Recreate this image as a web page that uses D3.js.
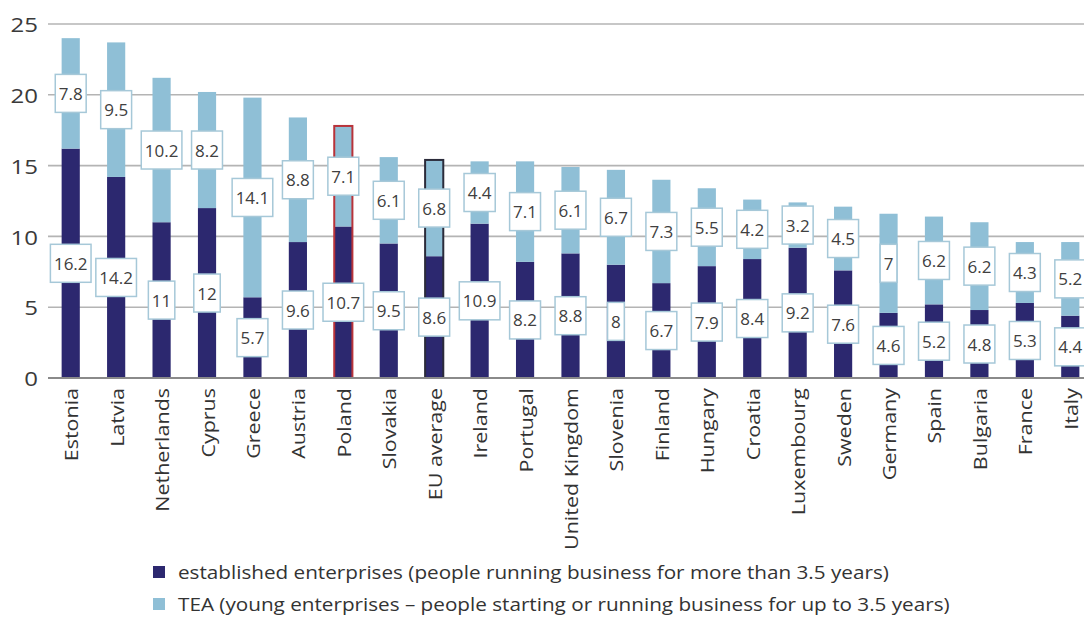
<!DOCTYPE html>
<html>
<head>
<meta charset="utf-8">
<script src="https://cdn.jsdelivr.net/npm/d3@7"></script>
<style>
  html, body { margin: 0; padding: 0; background: #fff; }
  svg { display: block; font-family: "Open Sans", "Noto Sans", sans-serif; }
</style>
</head>
<body>
<svg id="chart" width="1084" height="617"></svg>
<script>
// Entrepreneurial activity by country (% of adult population)
const countries = ["Estonia", "Latvia", "Netherlands", "Cyprus", "Greece", "Austria", "Poland",
  "Slovakia", "EU average", "Ireland", "Portugal", "United Kingdom", "Slovenia", "Finland",
  "Hungary", "Croatia", "Luxembourg", "Sweden", "Germany", "Spain", "Bulgaria", "France", "Italy"];
const established = [16.2, 14.2, 11, 12, 5.7, 9.6, 10.7, 9.5, 8.6, 10.9, 8.2, 8.8, 8, 6.7,
  7.9, 8.4, 9.2, 7.6, 4.6, 5.2, 4.8, 5.3, 4.4];
const tea = [7.8, 9.5, 10.2, 8.2, 14.1, 8.8, 7.1, 6.1, 6.8, 4.4, 7.1, 6.1, 6.7, 7.3,
  5.5, 4.2, 3.2, 4.5, 7, 6.2, 6.2, 4.3, 5.2];
const yTicks = [0, 5, 10, 15, 20, 25];
const seriesNames = [
  "established enterprises (people running business for more than 3.5 years)",
  "TEA (young enterprises \u2013 people starting or running business for up to 3.5 years)"
];
const highlighted = { "Poland": "#b8333a", "EU average": "#2b2b3a" };

const colors = { est: "#2c286f", tea: "#8fbfd6" };

const svg = d3.select("#chart");
const W = 1084;

const rows = countries.map((c, i) => ({ c, est: established[i], tea: tea[i] }));

const x = d3.scaleBand().domain(countries).range([48, 1093]).paddingInner(0.6).paddingOuter(0.3);
const y = d3.scaleLinear().domain([0, 25]).range([378, 24]);

// gridlines
svg.append("g").selectAll("line").data(yTicks.filter(t => t > 0)).join("line")
  .attr("x1", 48).attr("x2", W)
  .attr("y1", d => y(d)).attr("y2", d => y(d))
  .attr("stroke", "#b4b4b4").attr("stroke-width", 1.6);

// y tick labels (slightly widened glyphs)
svg.append("g").selectAll("text").data(yTicks).join("text")
  .attr("transform", d => `translate(38,${y(d)}) scale(1.2,1)`)
  .attr("text-anchor", "end").attr("dominant-baseline", "central")
  .attr("font-size", 20).attr("fill", "#3a3a3a")
  .text(d => d);

// stacked bars
const stack = d3.stack().keys(["est", "tea"])(rows);
svg.append("g").selectAll("g").data(stack).join("g")
  .attr("fill", d => colors[d.key])
  .selectAll("rect").data(d => d).join("rect")
  .attr("x", d => x(d.data.c))
  .attr("width", x.bandwidth())
  .attr("y", d => y(d[1]))
  .attr("height", d => y(d[0]) - y(d[1]));

// outlines for highlighted columns
svg.append("g").selectAll("rect").data(rows.filter(r => highlighted[r.c])).join("rect")
  .attr("x", d => x(d.c))
  .attr("width", x.bandwidth())
  .attr("y", d => y(d.est + d.tea))
  .attr("height", d => y(0) - y(d.est + d.tea))
  .attr("fill", "none")
  .attr("stroke", d => highlighted[d.c])
  .attr("stroke-width", 2);

// baseline axis
svg.append("line")
  .attr("x1", 48).attr("x2", W).attr("y1", y(0)).attr("y2", y(0))
  .attr("stroke", "#8a8a8a").attr("stroke-width", 2);

// value labels in boxes, centred on each segment
const labelData = [];
stack.forEach(s => s.forEach(d => labelData.push({ c: d.data.c, v: d[1] - d[0], mid: (d[0] + d[1]) / 2 })));
const lab = svg.append("g").selectAll("g").data(labelData).join("g")
  .attr("transform", d => `translate(${x(d.c) + x.bandwidth() / 2},${y(d.mid)})`);
lab.append("text")
  .attr("text-anchor", "middle").attr("dominant-baseline", "central")
  .attr("font-size", 17).attr("fill", "#404040")
  .text(d => d3.format("~")(Math.round(d.v * 10) / 10));
lab.each(function () {
  const g = d3.select(this);
  const bb = g.select("text").node().getBBox();
  const w = bb.width + 7, h = 38;
  g.insert("rect", "text")
    .attr("x", -w / 2).attr("y", -h / 2).attr("width", w).attr("height", h)
    .attr("fill", "#fff").attr("stroke", "#a6c8d8").attr("stroke-width", 1.5);
});

// category labels
svg.append("g").selectAll("text").data(countries).join("text")
  .attr("transform", d => `translate(${x(d) + x.bandwidth() / 2},388) rotate(-90) scale(1.13,1)`)
  .attr("text-anchor", "end").attr("dominant-baseline", "central")
  .attr("font-size", 19).attr("fill", "#333")
  .text(d => d);

// legend
const legend = svg.append("g").selectAll("g").data(seriesNames).join("g")
  .attr("transform", (d, i) => `translate(153,${572 + i * 32})`);
legend.append("rect")
  .attr("x", 0).attr("y", -6).attr("width", 12).attr("height", 12)
  .attr("fill", (d, i) => i === 0 ? colors.est : colors.tea);
legend.append("text")
  .attr("transform", "translate(25,0) scale(1.15,1)")
  .attr("dominant-baseline", "central")
  .attr("font-size", 18).attr("fill", "#333")
  .text(d => d);
</script>
</body>
</html>
